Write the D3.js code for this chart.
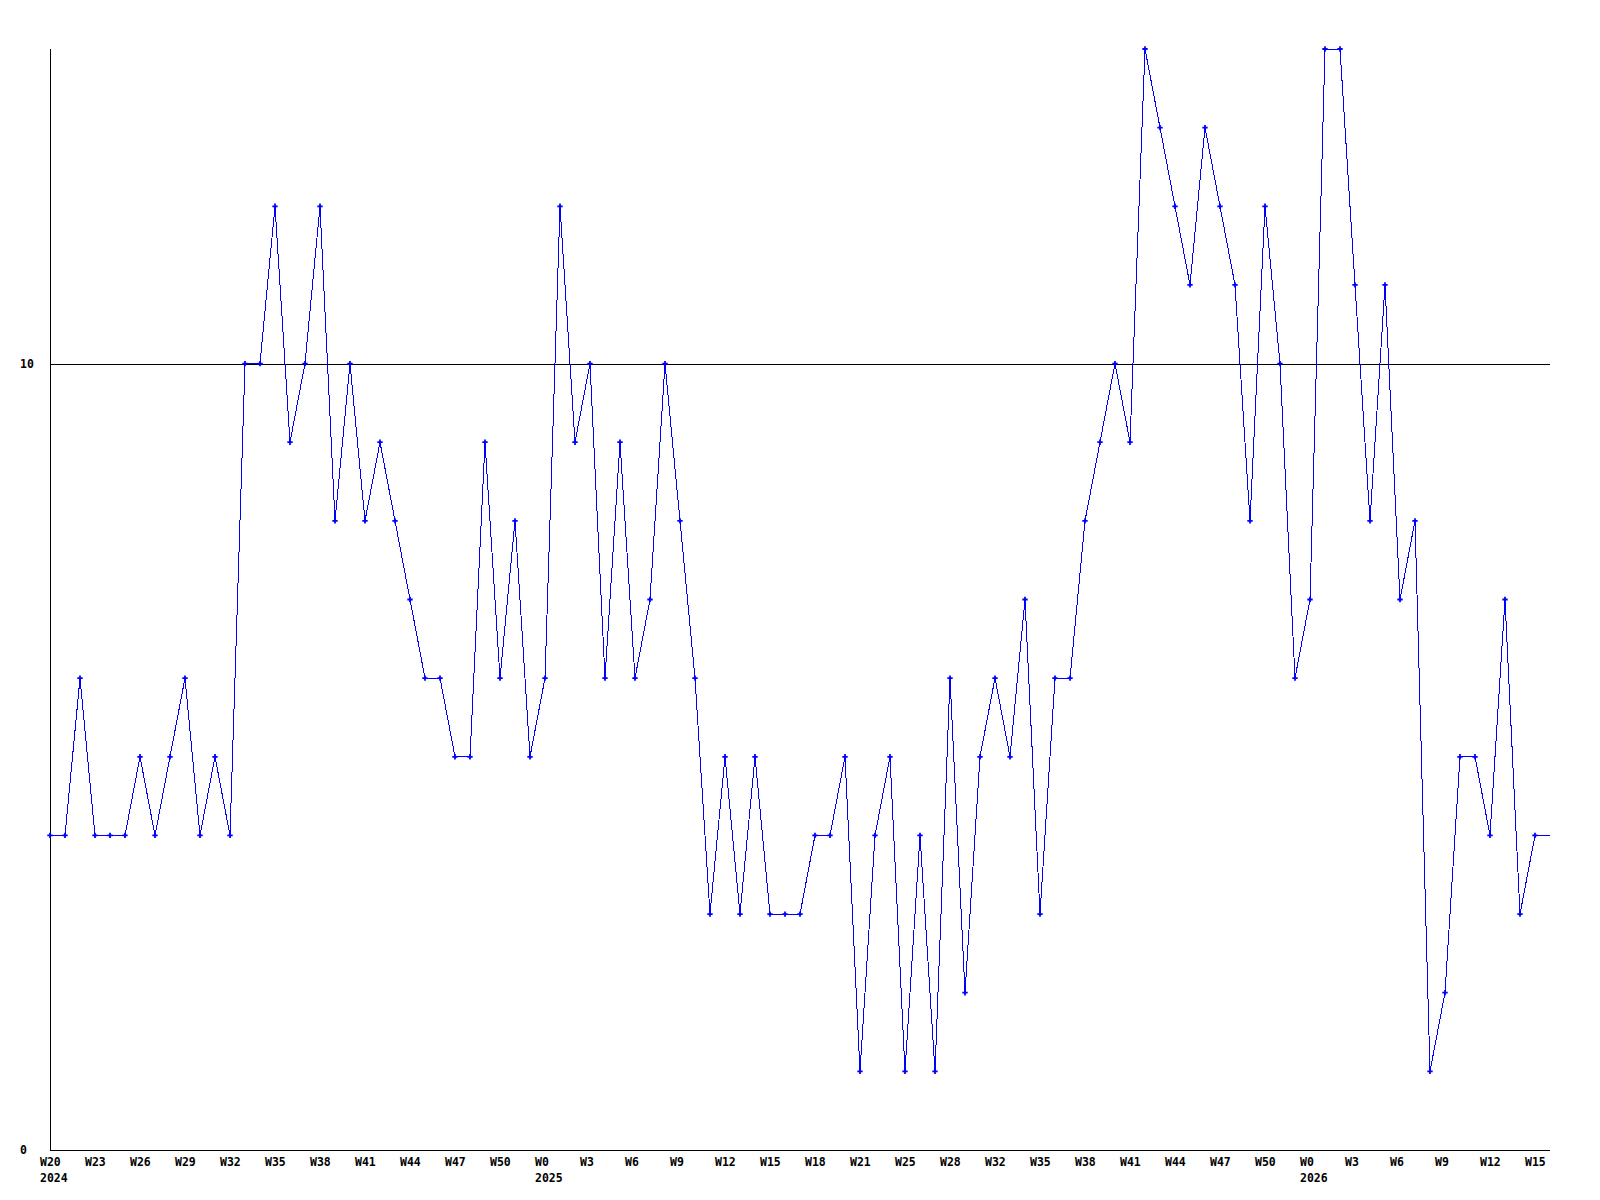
<!DOCTYPE html>
<html>
<head>
<meta charset="utf-8">
<script src="https://cdn.jsdelivr.net/npm/d3@7"></script>
<style>
  body { margin: 0; background: #fff; }
  svg { display: block; }
  text { font-family: "DejaVu Sans Mono", "Liberation Mono", monospace; font-weight: bold; font-size: 11.5px; fill: #000; }
</style>
</head>
<body>
<div id="chart"></div>
<script>
// weekly values, one per week starting 2024 W20
const values = [
    4, 4, 6, 4, 4, 4, 5, 4, 5, 6,
    4, 5, 4, 10, 10, 12, 9, 10, 12, 8,
    10, 8, 9, 8, 7, 6, 6, 5, 5, 9,
    6, 8, 5, 6, 12, 9, 10, 6, 9, 6,
    7, 10, 8, 6, 3, 5, 3, 5, 3, 3,
    3, 4, 4, 5, 1, 4, 5, 1, 4, 1,
    6, 2, 5, 6, 5, 7, 3, 6, 6, 8,
    9, 10, 9, 14, 13, 12, 11, 13, 12, 11,
    8, 12, 10, 6, 7, 14, 14, 11, 8, 11,
    7, 8, 1, 2, 5, 5, 4, 7, 3, 4,
    4
];

// x tick labels, every 3rd week
const tickLabels = [
    'W20', 'W23', 'W26', 'W29', 'W32', 'W35', 'W38', 'W41', 'W44', 'W47', 'W50',
    'W0', 'W3', 'W6', 'W9', 'W12', 'W15', 'W18', 'W21', 'W25', 'W28', 'W32',
    'W35', 'W38', 'W41', 'W44', 'W47', 'W50',
    'W0', 'W3', 'W6', 'W9', 'W12', 'W15'
];
// year shown under these tick positions
const yearTicks = [0, 11, 28];
const yearLabels = ['2024', '2025', '2026'];

const yTicks = [0, 10];
const refLine = 10;

const W = 1600, H = 1200;
const x = d3.scaleLinear().domain([0, values.length - 1]).range([50, 1550]);
const y = d3.scaleLinear().domain([0, 14]).range([1150, 49]);

const svg = d3.select('#chart')
    .append('svg')
    .attr('width', W)
    .attr('height', H);

// axes
svg.append('line')
    .attr('x1', x(0) + 0.5).attr('x2', x(0) + 0.5)
    .attr('y1', y(14)).attr('y2', y(0))
    .attr('stroke', '#000');
svg.append('line')
    .attr('x1', x(0)).attr('x2', x(values.length - 1))
    .attr('y1', y(0) + 0.5).attr('y2', y(0) + 0.5)
    .attr('stroke', '#000');
svg.append('line')
    .attr('x1', x(0)).attr('x2', x(values.length - 1))
    .attr('y1', Math.round(y(refLine)) + 0.5).attr('y2', Math.round(y(refLine)) + 0.5)
    .attr('stroke', '#000');

// y labels
svg.selectAll('text.ylab')
    .data(yTicks)
    .enter()
    .append('text')
    .attr('class', 'ylab')
    .attr('x', 20)
    .attr('y', d => y(d) + 4)
    .text(d => d);

// x labels, left edge a bit before the tick
const xl = svg.selectAll('g.xlab')
    .data(tickLabels)
    .enter()
    .append('g')
    .attr('class', 'xlab')
    .attr('transform', (d, i) => `translate(${x(i * 3) - 10},0)`);

xl.append('text')
    .attr('y', 1166)
    .text(d => d);

yearTicks.forEach((t, k) => {
    xl.filter((d, i) => i === t)
        .append('text')
        .attr('y', 1182)
        .text(yearLabels[k]);
});

// the series
const line = d3.line()
    .x((d, i) => x(i))
    .y(d => y(d));

svg.append('path')
    .datum(values)
    .attr('d', line)
    .attr('fill', 'none')
    .attr('stroke', '#0000ff')
    .attr('stroke-width', 1)
    .attr('shape-rendering', 'crispEdges');

// markers (last point has none)
svg.selectAll('path.pt')
    .data(values.slice(0, -1))
    .enter()
    .append('path')
    .attr('class', 'pt')
    .attr('transform', (d, i) => `translate(${x(i)},${y(d)})`)
    .attr('d', d3.symbol(d3.symbolCross).size(16))
    .attr('fill', '#0000ff');
</script>
</body>
</html>
